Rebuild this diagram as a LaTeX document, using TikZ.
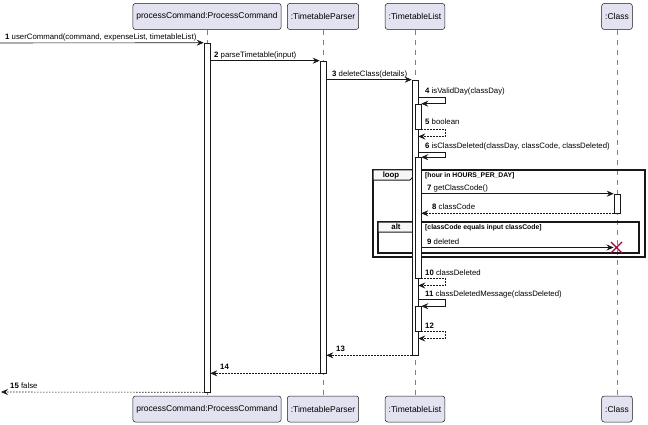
\documentclass[tikz,border=0pt]{standalone}
\usepackage{fontspec}
\setmainfont{Liberation Sans}
\usetikzlibrary{arrows.meta}
\definecolor{partfill}{HTML}{E2E2F0}
\definecolor{umlline}{HTML}{181818}
\definecolor{delred}{HTML}{A80036}
\tikzset{
	party/.style={draw=umlline, fill=partfill, line width=0.5pt, rounded corners=2.5pt, minimum height=26pt, inner xsep=3.5pt, inner ysep=0pt, font=\fontsize{8.5}{10}\selectfont},
	lifeline/.style={draw=umlline!55, line width=0.5pt, dash pattern=on 5pt off 5pt},
	act/.style={draw=umlline, fill=white, line width=0.6pt, minimum width=6pt, inner sep=0pt},
	msg/.style={draw=umlline, line width=0.6pt, -{Stealth[length=7pt,width=6pt,inset=2.5pt]}},
	ret/.style={msg, dash pattern=on 1.5pt off 1.5pt},
	lbl/.style={anchor=base west, inner sep=0pt, font=\fontsize{7.8}{9}\selectfont},
	cond/.style={anchor=base west, inner sep=0pt, font=\bfseries\fontsize{6.8}{8}\selectfont},
	tablbl/.style={anchor=base, inner sep=0pt, font=\bfseries\fontsize{7.8}{9}\selectfont},
	frm/.style={draw=umlline, line width=1.4pt},
	frametab/.style={draw=umlline, fill=gray!6, line width=1pt},
}
\def\actbar(#1)(#2:#3:#4){\node[act, minimum height={#4-#3}] (#1) at (#2,{(#3+#4)/2}) {};}

\begin{document}
\begin{tikzpicture}[x=1pt, y=-1pt]
	%%%%% START %%%%%
	\useasboundingbox (0,0) rectangle (648,425);

	\node[party] (pc) at (207, 16.5) {processCommand:ProcessCommand};
	\node[party] (tp) at (323, 16.5) {:TimetableParser};
	\node[party] (tl) at (415, 16.5) {:TimetableList};
	\node[party] (cl) at (617, 16.5) {:Class};

	\node[party] (pcB) at (207, 409) {processCommand:ProcessCommand};
	\node[party] (tpB) at (323, 409) {:TimetableParser};
	\node[party] (tlB) at (415, 409) {:TimetableList};
	\node[party] (clB) at (617, 409) {:Class};

	\draw[lifeline] (pc) -- (pcB);
	\draw[lifeline] (tp) -- (tpB);
	\draw[lifeline] (tl) -- (tlB);
	\draw[lifeline] (cl) -- (clB);

	% loop and alt frames
	\draw[frm] (373, 170) rectangle (645, 257);
	\draw[frametab] (373, 170) -- (415, 170) -- (415, 175) -- (410, 180) -- (373, 180) -- cycle;
	\node[tablbl] (looplbl) at (391, 177.5) {loop};
	\node[cond] (loopcond) at (425, 177.5) {[hour in HOURS\_PER\_DAY]};

	\draw[frm] (378, 222) rectangle (639, 253);
	\draw[frametab] (378, 222) -- (418, 222) -- (418, 227) -- (413, 232) -- (378, 232) -- cycle;
	\node[tablbl] (altlbl) at (396, 229.5) {alt};
	\node[cond] (altcond) at (425, 229.5) {[classCode equals input classCode]};

	% activations
	\actbar(pcAct)(207:43:392)
	\actbar(tpAct)(323:61:373)
	\actbar(tlAct)(415:80:355)
	\actbar(tlA4)(418:104:129)
	\actbar(tlA6)(418:157.5:278)
	\actbar(tlA11)(418:306.5:331)
	\actbar(clAct)(617:194:213)

	\coordinate (caller) at (0, 43);
	\coordinate (callerR) at (1, 392);
	\coordinate (xdel) at (616.5, 247.5);

	% messages
	\draw[msg] (caller) -- (pcAct.north west);
	\node[lbl] (m1) at (5, 39.5) {\textbf{1} userCommand(command, expenseList, timetableList)};

	\draw[msg] (pcAct.east |- tpAct.north) -- (tpAct.north west);
	\node[lbl] (m2) at (214, 57.5) {\textbf{2} parseTimetable(input)};

	\draw[msg] (tpAct.east |- tlAct.north) -- (tlAct.north west);
	\node[lbl] (m3) at (332, 76.5) {\textbf{3} deleteClass(details)};

	\draw[msg] (tlAct.east |- 0, 97) -- ++(27, 0) |- (tlA4.north east);
	\node[lbl] (m4) at (425, 94) {\textbf{4} isValidDay(classDay)};

	\draw[ret] (tlA4.south east) -- ++(24, 0) |- (tlAct.east |- 0, 136.5);
	\node[lbl] (m5) at (425, 125) {\textbf{5} boolean};

	\draw[msg] (tlAct.east |- 0, 152) -- ++(27, 0) |- (tlA6.north east);
	\node[lbl] (m6) at (425, 148.5) {\textbf{6} isClassDeleted(classDay, classCode, classDeleted)};

	\draw[msg] (tlA6.east |- clAct.north) -- (clAct.north west);
	\node[lbl] (m7) at (427, 190.5) {\textbf{7} getClassCode()};

	\draw[ret] (clAct.south west) -- (tlA6.east |- clAct.south);
	\node[lbl] (m8) at (432, 209.5) {\textbf{8} classCode};

	\draw[msg] (tlA6.east |- xdel) -- ([xshift=-3pt]xdel);
	\draw[delred, line width=1.2pt] ([shift={(-5.5pt,-5.5pt)}]xdel) -- ([shift={(5.5pt,5.5pt)}]xdel)
		([shift={(-5.5pt,5.5pt)}]xdel) -- ([shift={(5.5pt,-5.5pt)}]xdel);
	\node[lbl] (m9) at (427, 244.5) {\textbf{9} deleted};

	\draw[ret] (tlA6.south east) -- ++(24, 0) |- (tlAct.east |- 0, 285.5);
	\node[lbl] (m10) at (425, 275.5) {\textbf{10} classDeleted};

	\draw[msg] (tlAct.east |- 0, 299) -- ++(27, 0) |- (tlA11.north east);
	\node[lbl] (m11) at (425, 296) {\textbf{11} classDeletedMessage(classDeleted)};

	\draw[ret] (tlA11.south east) -- ++(24, 0) |- (tlAct.east |- 0, 338.5);
	\node[lbl] (m12) at (425, 328.5) {\textbf{12}};

	\draw[ret] (tlAct.south west) -- (tpAct.east |- tlAct.south);
	\node[lbl] (m13) at (336, 351.5) {\textbf{13}};

	\draw[ret] (tpAct.south west) -- (pcAct.east |- tpAct.south);
	\node[lbl] (m14) at (220, 369.5) {\textbf{14}};

	\draw[ret] (pcAct.south west) -- (callerR);
	\node[lbl] (m15) at (10, 388.5) {\textbf{15} false};

	%%%%% END %%%%%
\end{tikzpicture}
\end{document}
